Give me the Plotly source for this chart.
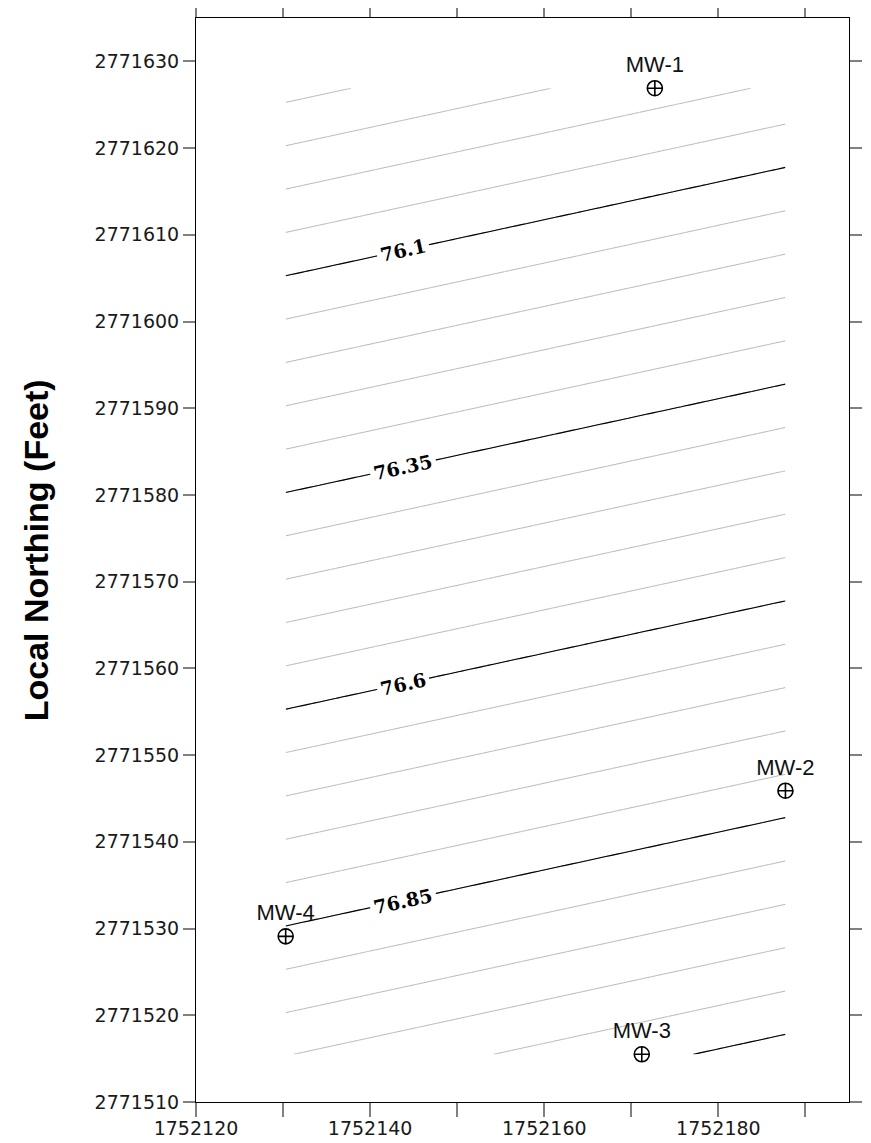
import numpy as np
import plotly.graph_objects as go

# ---- data -------------------------------------------------------------
well_names = ["MW-1", "MW-2", "MW-3", "MW-4"]
well_x = [1752172.7, 1752187.7, 1752171.2, 1752130.3]
well_y = [2771626.9, 2771545.9, 2771515.5, 2771529.1]
well_head = [75.976, 76.819, 77.087, 76.862]

contour_step = 0.05
labeled_levels = [76.1, 76.35, 76.6, 76.85]
label_step = 0.25
label_x = 1752143.8

x_tickvals = [1752120, 1752130, 1752140, 1752150, 1752160, 1752170, 1752180, 1752190]
x_ticktext = ["1752120", "", "1752140", "", "1752160", "", "1752180", ""]
y_tickvals = [2771510, 2771520, 2771530, 2771540, 2771550, 2771560, 2771570,
              2771580, 2771590, 2771600, 2771610, 2771620, 2771630]
y_ticktext = [str(v) for v in y_tickvals]

x_range = [1752120, 1752195]
y_range = [2771510, 2771635]

# ---- surface (linear trend fitted to the wells) -----------------------
wx = np.array(well_x)
wy = np.array(well_y)
wh = np.array(well_head)
xc, yc = wx.mean(), wy.mean()
A = np.column_stack([np.ones_like(wx), wx - xc, wy - yc])
coef, *_ = np.linalg.lstsq(A, wh, rcond=None)

gx = np.linspace(wx.min(), wx.max(), 90)
gy = np.linspace(wy.min(), wy.max(), 180)
GX, GY = np.meshgrid(gx, gy)
Z = coef[0] + coef[1] * (GX - xc) + coef[2] * (GY - yc)

fig = go.Figure()
fig.add_trace(go.Contour(
    x=gx, y=gy, z=Z,
    contours=dict(start=75.5, end=77.5, size=contour_step, coloring="none"),
    line=dict(color="#b5b5b5", width=1, smoothing=0),
    showscale=False, hoverinfo="skip",
))
fig.add_trace(go.Contour(
    x=gx, y=gy, z=Z,
    contours=dict(start=76.1, end=77.35, size=label_step, coloring="none"),
    line=dict(color="black", width=1.1, smoothing=0),
    showscale=False, hoverinfo="skip",
))
fig.add_trace(go.Scatter(
    x=well_x, y=well_y, mode="markers+text", text=well_names,
    textposition="top center",
    textfont=dict(family="Liberation Sans, Arial", size=22, color="#111"),
    marker=dict(symbol="circle-cross-open", size=15, color="black",
                line=dict(color="black", width=1.6)),
    hoverinfo="skip", showlegend=False,
))

# contour labels, placed on the fitted lines
angle = np.degrees(np.arctan(-coef[1] / coef[2]))
annotations = []
for lev in labeled_levels:
    ly = yc + (lev - coef[0] - coef[1] * (label_x - xc)) / coef[2]
    annotations.append(dict(
        x=label_x, y=ly, xref="x", yref="y", text=f"{lev:g}",
        showarrow=False, textangle=-angle, xanchor="center", yanchor="middle",
        bgcolor="white", borderpad=3,
        font=dict(family="DejaVu Serif", size=19, color="black", weight="bold"),
    ))

annotations.append(dict(
    x=-0.245, y=0.509, xref="paper", yref="paper",
    text="Local Northing (Feet)", showarrow=False, textangle=-90,
    xanchor="center", yanchor="middle",
    font=dict(family="Liberation Sans, Arial", size=34, color="black", weight="bold"),
))

axis_common = dict(
    showgrid=False, zeroline=False, showline=True, linecolor="black", linewidth=1,
    mirror="ticks", ticks="outside", tickcolor="#808080", tickwidth=1.5,
    automargin=False,
    tickfont=dict(family="DejaVu Sans", size=19, color="#1a1a1a"),
)

# the page body adds an 8 px offset, so the figure is sized to fit the window
fig.update_layout(
    width=863, height=1135, autosize=False,
    margin=dict(l=188, r=22, t=10, b=41, autoexpand=False),
    paper_bgcolor="white", plot_bgcolor="white",
    showlegend=False,
    xaxis=dict(range=x_range, tickmode="array", tickvals=x_tickvals,
               ticktext=x_ticktext, ticklen=14, ticklabelstandoff=-5,
               **axis_common),
    yaxis=dict(range=y_range, tickmode="array", tickvals=y_tickvals,
               ticktext=y_ticktext, ticklen=12, **axis_common),
    annotations=annotations,
)

fig.write_html("out.html")
